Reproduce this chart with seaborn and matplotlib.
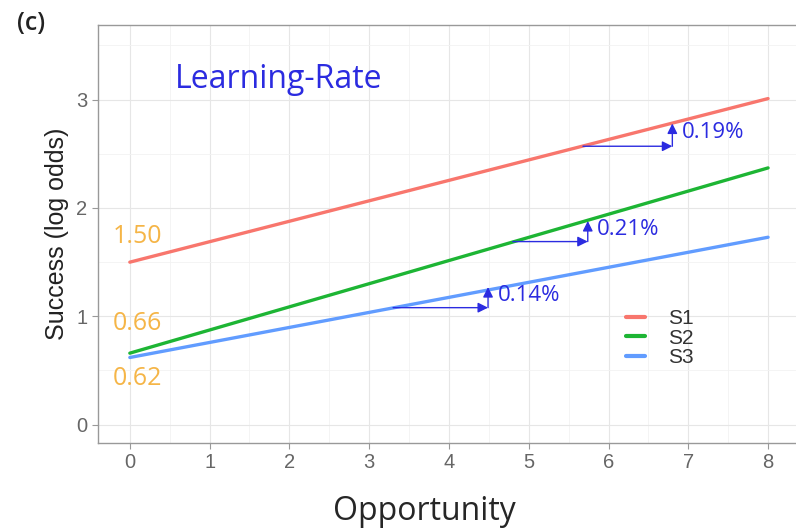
import pandas as pd
import numpy as np
import matplotlib
matplotlib.use("Agg")
import matplotlib.pyplot as plt
import seaborn as sns

# Data
opportunity = [0, 8]
s1 = [1.50, 3.01]
s2 = [0.66, 2.37]
s3 = [0.62, 1.73]
series_names = ["S1", "S2", "S3"]
intercept_labels = ["1.50", "0.66", "0.62"]
rate_labels = ["0.19%", "0.21%", "0.14%"]
# slope triangles: start x, end x, base y, top y
tri_x0 = [5.68, 4.80, 3.30]
tri_x1 = [6.80, 5.74, 4.49]
tri_y0 = [2.57, 1.69, 1.08]
tri_y1 = [2.78, 1.88, 1.27]

df = pd.DataFrame({
    "Opportunity": opportunity * 3,
    "Success": s1 + s2 + s3,
    "series": [n for n in series_names for _ in opportunity],
})

sns.set_style("white")
colors = ["#F8766D", "#1DB534", "#619CFF"]
blue = "#2B2BE0"
orange = "#F5B547"

fig = plt.figure(figsize=(7.96, 5.30), dpi=100)
ax = fig.add_axes([0.123, 0.164, 0.877, 0.789])

sns.lineplot(data=df, x="Opportunity", y="Success", hue="series",
             palette=colors, linewidth=2.4, ax=ax)

ax.set_xticks(range(0, 9))
ax.set_yticks([0, 1, 2, 3])
ax.set_xticks(np.arange(0.5, 8.5, 1.0), minor=True)
ax.set_yticks(np.arange(0.5, 3.6, 1.0), minor=True)
ax.set_xlim(-0.4, 8.35)
ax.set_ylim(-0.17, 3.69)
ax.grid(which="major", color="#e6e6e6", linewidth=0.8)
ax.grid(which="minor", color="#f2f2f2", linewidth=0.6)
ax.set_axisbelow(True)

for side in ["left", "bottom", "top"]:
    ax.spines[side].set_color("#999999")
    ax.spines[side].set_linewidth(1.0)
ax.spines["right"].set_visible(False)
ax.tick_params(axis="both", which="major", length=4, color="#999999",
               labelsize=14.5, labelcolor="#666666", direction="out",
               left=True, bottom=True)
ax.tick_params(which="minor", length=0)
for lab in ax.get_xticklabels() + ax.get_yticklabels():
    lab.set_family("Liberation Sans")

ax.set_xlabel("Opportunity", fontsize=23, family="Open Sans")
ax.xaxis.set_label_coords(0.468, -0.125)
ax.set_ylabel("Success (log odds)", fontsize=18, family="Liberation Sans",
              color="#222222", labelpad=5)

# title inside plot
ax.text(0.56, 3.19, "Learning-Rate", color=blue, fontsize=23,
        family="Open Sans", va="center", ha="left")

# intercept labels
for lab, yy in zip(intercept_labels, [1.74, 0.93, 0.43]):
    ax.text(-0.22, yy, lab, color=orange, fontsize=18, family="Open Sans",
            va="center", ha="left")

# slope triangles
for x0, x1, y0, y1, lab in zip(tri_x0, tri_x1, tri_y0, tri_y1, rate_labels):
    ax.annotate("", xy=(x1, y0), xytext=(x0, y0),
                arrowprops=dict(arrowstyle="-|>", color=blue, lw=1.0,
                                mutation_scale=15, shrinkA=0, shrinkB=0))
    ax.annotate("", xy=(x1, y1), xytext=(x1, y0),
                arrowprops=dict(arrowstyle="-|>", color=blue, lw=1.0,
                                mutation_scale=15, shrinkA=0, shrinkB=0))
    ax.text(x1 + 0.12, (y0 + y1) / 2 + 0.02, lab, color=blue, fontsize=16,
            family="Open Sans", va="center", ha="left")

leg = ax.legend(loc="upper left", bbox_to_anchor=(0.73, 0.365), frameon=False,
                handlelength=0.9, handletextpad=1.1, labelspacing=0.02,
                prop={"family": "Liberation Sans", "size": 15})
for t in leg.get_texts():
    t.set_color("#333333")
for h in leg.get_lines():
    h.set_linewidth(3)

fig.text(0.021, 0.955, "(c)", fontsize=18, family="Open Sans",
         weight="semibold", color="#222222", va="center")

fig.savefig("out.png", dpi=100)
